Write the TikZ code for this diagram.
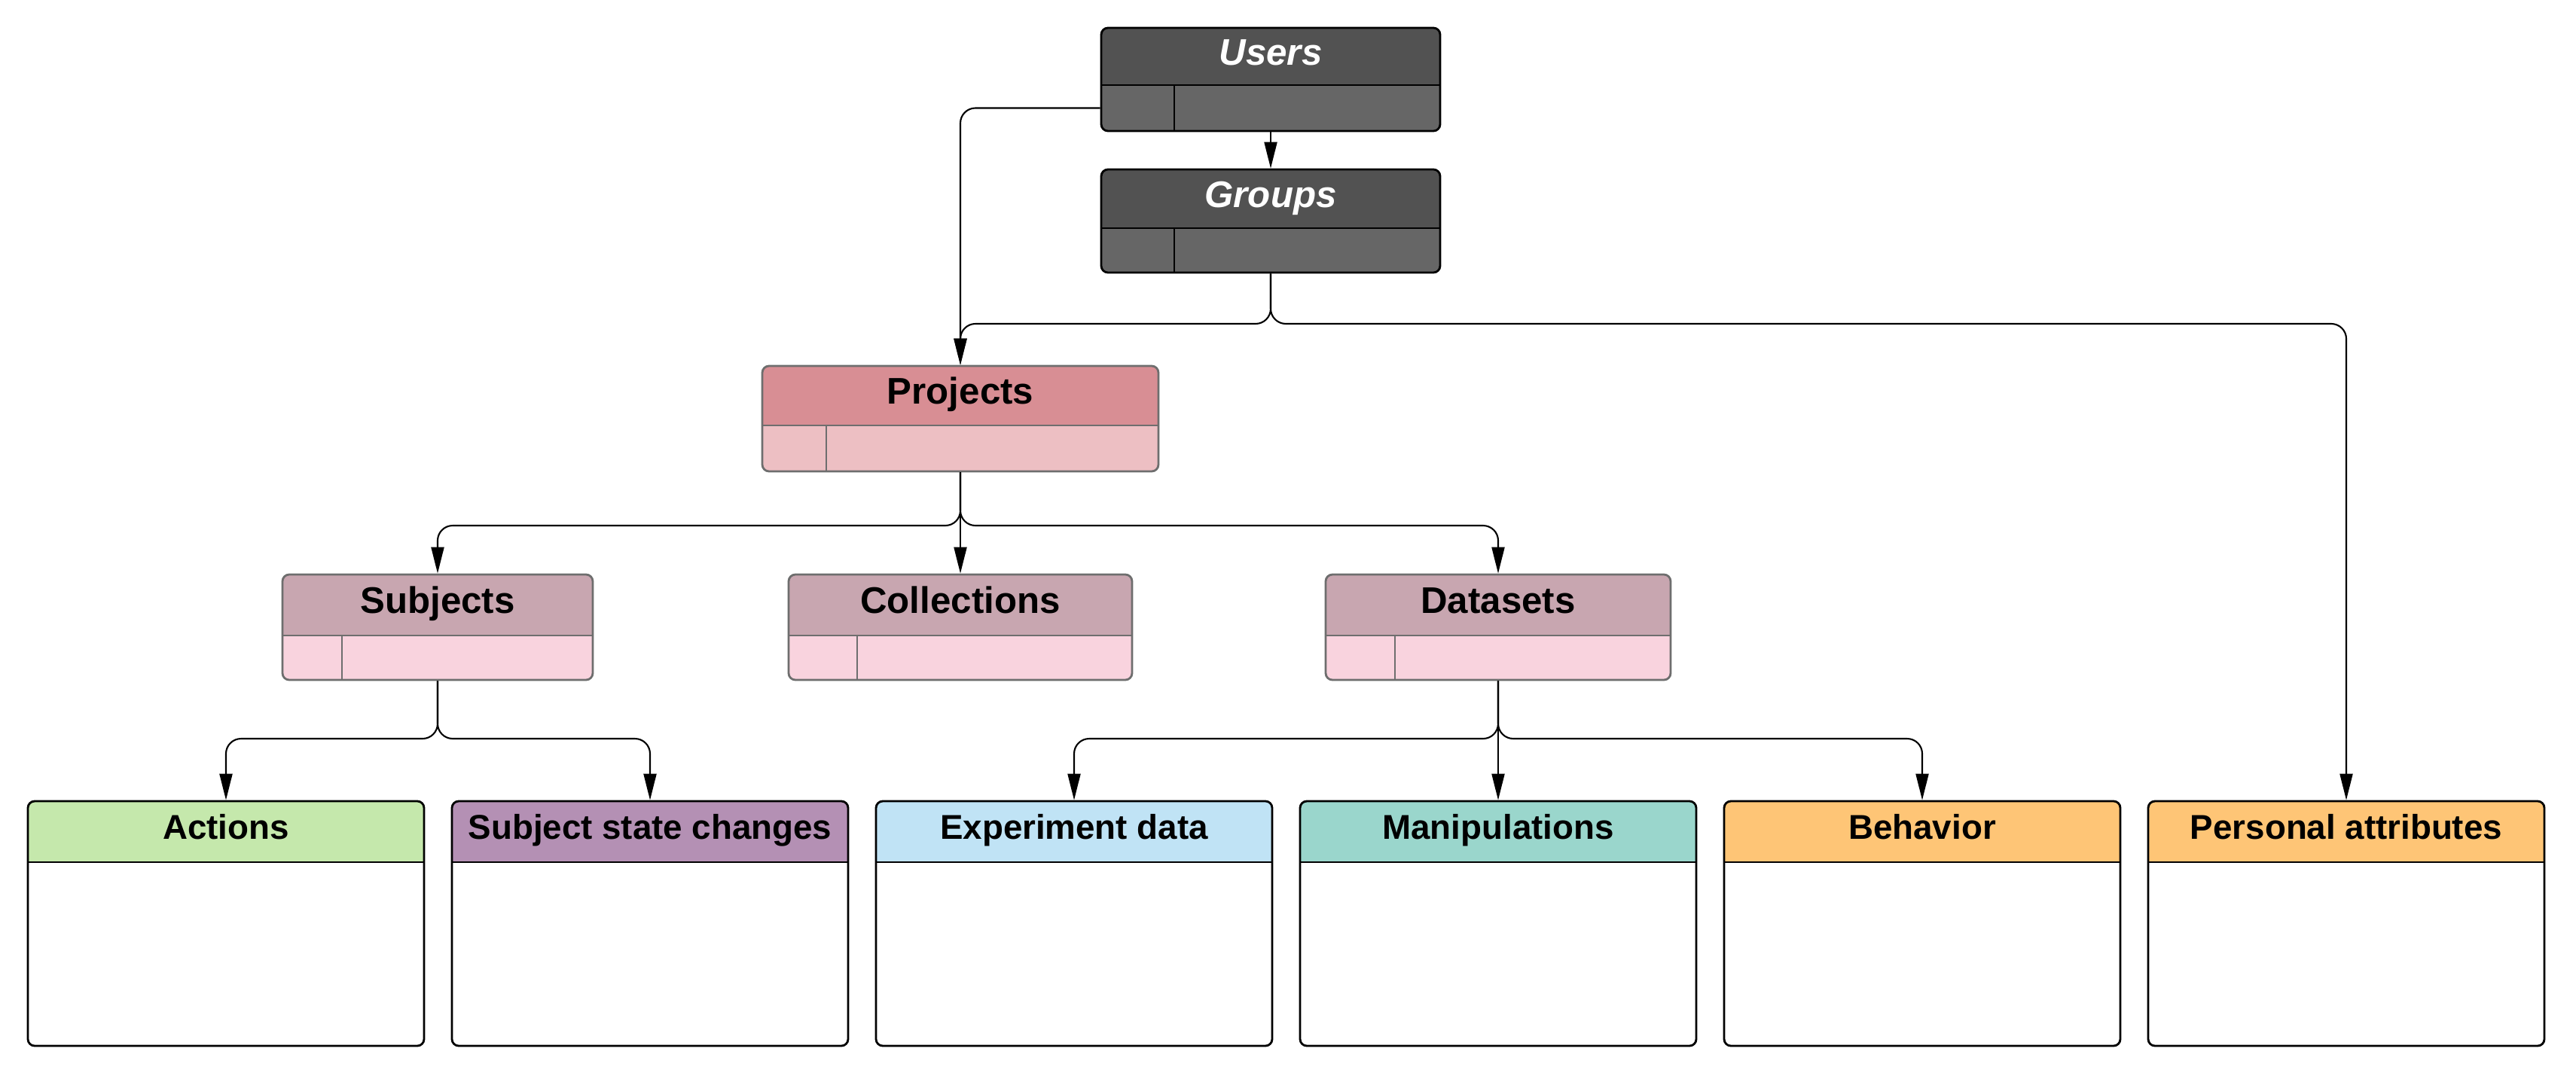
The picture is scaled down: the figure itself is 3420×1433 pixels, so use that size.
\documentclass[tikz,border=0pt]{standalone}
\usepackage{fontspec}
\setmainfont{Liberation Sans}
\usetikzlibrary{arrows.meta,fit}

\definecolor{usrhead}{HTML}{525252}
\definecolor{usrlow}{HTML}{666666}
\definecolor{usrborder}{HTML}{000000}
\definecolor{prjhead}{HTML}{D88E94}
\definecolor{prjlow}{HTML}{EDBFC3}
\definecolor{prjborder}{HTML}{6E6E6E}
\definecolor{subhead}{HTML}{C8A6B0}
\definecolor{sublow}{HTML}{F9D3DE}
\definecolor{subborder}{HTML}{6E6E6E}
\definecolor{actcol}{HTML}{C5E8AC}
\definecolor{ssccol}{HTML}{B490B4}
\definecolor{expcol}{HTML}{C0E3F5}
\definecolor{mancol}{HTML}{9AD6CC}
\definecolor{behcol}{HTML}{FEC576}

\newcommand\entrc{0.09cm}
\newcommand\entbw{0.8pt}

\tikzset{
  usrtext/.style={text=white, font=\fontsize{14}{16}\selectfont\bfseries\itshape},
  prjtext/.style={text=black, font=\fontsize{14}{16}\selectfont\bfseries},
  subtext/.style={text=black, font=\fontsize{14}{16}\selectfont\bfseries},
  leaftext/.style={text=black, font=\fontsize{13}{15}\selectfont\bfseries},
  conn/.style={draw=black, line width=0.6pt, rounded corners=0.2cm,
    -{Triangle[length=0.35cm,width=0.17cm]}}
}

% #1 name, #2 x1, #3 y1, #4 x2, #5 yh, #6 y2, #7 xdiv, #8 prefix, #9 text
\newcommand\entity[9]{%
  \begin{scope}
    \clip[rounded corners=\entrc] (#2,#3) rectangle (#4,#6);
    \fill[#8low] (#2,#5) rectangle (#4,#6);
    \fill[#8head] (#2,#3) rectangle (#4,#5);
  \end{scope}
  \draw[#8border, line width=\entbw] (#2,#5) -- (#4,#5);
  \draw[#8border, line width=\entbw] (#7,#5) -- (#7,#6);
  \node[fit={(#2,#3) (#4,#6)}, inner sep=0pt, draw=#8border, line width=\entbw, rounded corners=\entrc] (#1) {};
  \coordinate (#1-l) at ({(#2+#4)/2},{(#5+#6)/2});
  \node[#8text, anchor=base, inner sep=0pt] (#1-t) at ({(#2+#4)/2},{(#3+#5)/2+11}) {#9};
}

% #1 name, #2 x1, #3 colour, #4 text
\newcommand\leafbox[4]{%
  \begin{scope}
    \clip[rounded corners=\entrc] (#2,1064) rectangle ({#2+526},1389);
    \fill[white] (#2,1145) rectangle ({#2+526},1389);
    \fill[#3] (#2,1064) rectangle ({#2+526},1145);
  \end{scope}
  \draw[black, line width=\entbw] (#2,1145) -- ({#2+526},1145);
  \node[fit={(#2,1064) ({#2+526},1389)}, inner sep=0pt, draw=black, line width=\entbw, rounded corners=\entrc] (#1) {};
  \node[leaftext, anchor=base, inner sep=0pt] (#1-t) at ({#2+263},{1104+10}) {#4};
}

\begin{document}
\begin{tikzpicture}[x=0.01cm, y=-0.01cm]
\useasboundingbox (0,0) rectangle (3420,1433);

\entity{users}{1462}{37}{1912}{113}{174}{1559}{usr}{Users}
\entity{groups}{1462}{225}{1912}{303}{362}{1559}{usr}{Groups}
\entity{projects}{1012}{486}{1538}{565}{626}{1097}{prj}{Projects}
\entity{subjects}{375}{763}{787}{844}{903}{454}{sub}{Subjects}
\entity{collections}{1047}{763}{1503}{844}{903}{1138}{sub}{Collections}
\entity{datasets}{1760}{763}{2218}{844}{903}{1852}{sub}{Datasets}

\leafbox{actions}{37}{actcol}{Actions}
\leafbox{ssc}{600}{ssccol}{Subject state changes}
\leafbox{exp}{1163}{expcol}{Experiment data}
\leafbox{manip}{1726}{mancol}{Manipulations}
\leafbox{behav}{2289}{behcol}{Behavior}
\leafbox{personal}{2852}{behcol}{Personal attributes}

\coordinate (busg) at (1687,430);
\coordinate (busp) at (1275,698);
\coordinate (buss) at (581,981);
\coordinate (busd) at (1989,981);

\draw[conn] (users.south) -- (groups.north);
\draw[conn] (users.west |- users-l) -| (projects.north);
\draw[conn] (groups.south) |- (projects.north |- busg) -- (projects.north);
\draw[conn] (groups.south) |- (personal.north |- busg) -- (personal.north);

\draw[conn] (projects.south) |- (subjects.north |- busp) -- (subjects.north);
\draw[conn] (projects.south) -- (collections.north);
\draw[conn] (projects.south) |- (datasets.north |- busp) -- (datasets.north);

\draw[conn] (subjects.south) |- (actions.north |- buss) -- (actions.north);
\draw[conn] (subjects.south) |- (ssc.north |- buss) -- (ssc.north);

\draw[conn] (datasets.south) |- (exp.north |- busd) -- (exp.north);
\draw[conn] (datasets.south) -- (manip.north);
\draw[conn] (datasets.south) |- (behav.north |- busd) -- (behav.north);
\end{tikzpicture}
\end{document}
